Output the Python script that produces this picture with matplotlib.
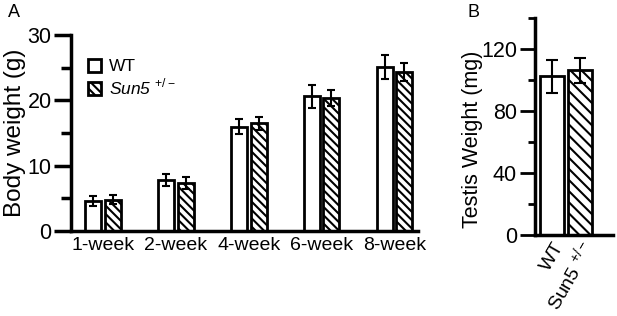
import numpy as np
import matplotlib.pyplot as plt
from matplotlib.ticker import MultipleLocator
from matplotlib.transforms import ScaledTranslation

plt.rcParams['font.family'] = ['Liberation Sans', 'DejaVu Sans']
plt.rcParams['mathtext.fontset'] = 'custom'
plt.rcParams['mathtext.rm'] = 'Liberation Sans'
plt.rcParams['mathtext.sf'] = 'Liberation Sans:italic'
plt.rcParams['hatch.linewidth'] = 1.5

weeks = ['1-week', '2-week', '4-week', '6-week', '8-week']
wt_body = [4.6, 7.8, 16.0, 20.6, 25.1]
wt_body_err = [0.8, 0.9, 1.2, 1.8, 1.9]
sun5_body = [4.8, 7.3, 16.5, 20.4, 24.3]
sun5_body_err = [0.7, 0.9, 1.0, 1.2, 1.4]

genotypes = ['WT', r'Sun5 $^{+/-}$']
testis = [102.6, 106.5]
testis_err = [10.7, 8.0]

fig = plt.figure(figsize=(6.17, 3.16), dpi=100)
axA = fig.add_axes([0.115, 0.269, 0.562, 0.62])
axB = fig.add_axes([0.867, 0.256, 0.127, 0.686])

err_kw = dict(ecolor='black', elinewidth=1.5, capsize=3, capthick=1.5)

# panel A
x = np.arange(len(weeks))
w = 0.22
axA.bar(x - 0.135, wt_body, w, yerr=wt_body_err, color='white',
        edgecolor='black', linewidth=2, error_kw=err_kw, label='WT')
axA.bar(x + 0.135, sun5_body, w, yerr=sun5_body_err, color='white',
        edgecolor='black', linewidth=2, hatch='\\\\\\\\', error_kw=err_kw,
        label=r'$\mathsf{Sun5}$ $^{+/-}$')
axA.set_xlim(-0.44, 4.32)
axA.set_ylim(0, 30)
axA.set_xticks(x)
axA.set_xticklabels(weeks, fontsize=14)
axA.tick_params(axis='x', length=0, pad=4)
axA.yaxis.set_major_locator(MultipleLocator(10))
axA.yaxis.set_minor_locator(MultipleLocator(5))
axA.tick_params(axis='y', which='major', length=12, width=2.5, labelsize=15.5, pad=2)
axA.tick_params(axis='y', which='minor', length=7, width=2.5)
axA.set_ylabel('Body weight (g)', fontsize=17.5, labelpad=1)
axA.legend(loc='upper left', bbox_to_anchor=(0.028, 0.915), frameon=False,
           fontsize=12.5, handlelength=0.8, handleheight=0.8,
           handletextpad=0.45, labelspacing=0.15, borderaxespad=0)

# panel B
xb = np.arange(len(genotypes))
axB.bar(xb, testis, 0.86, yerr=testis_err, color='white', edgecolor='black',
        linewidth=2, hatch=[None, '\\\\\\'],
        error_kw=dict(ecolor='black', elinewidth=1.5, capsize=4, capthick=1.5))
axB.set_xlim(-0.61, 2.18)
axB.set_ylim(0, 140)
axB.set_xticks(xb)
axB.tick_params(axis='x', length=0, pad=6)
axB.set_xticklabels(genotypes, fontsize=14, rotation=60, ha='right',
                    va='center', rotation_mode='anchor')
for lab in axB.get_xticklabels():
    lab.set_transform(lab.get_transform() + ScaledTranslation(6 / 72, 0, fig.dpi_scale_trans))
axB.yaxis.set_major_locator(MultipleLocator(40))
axB.yaxis.set_minor_locator(MultipleLocator(20))
axB.tick_params(axis='y', which='major', length=11, width=2, labelsize=15.5, pad=2)
axB.tick_params(axis='y', which='minor', length=5, width=2)
axB.set_ylabel('Testis Weight (mg)', fontsize=15.5)
axB.yaxis.set_label_coords(-0.66, 0.44)

for ax in (axA, axB):
    for s in ('top', 'right'):
        ax.spines[s].set_visible(False)
    for s in ('left', 'bottom'):
        ax.spines[s].set_linewidth(2.5)

fig.text(0.013, 0.945, 'A', fontsize=13)
fig.text(0.757, 0.945, 'B', fontsize=13)

plt.savefig('out.png', dpi=100)
